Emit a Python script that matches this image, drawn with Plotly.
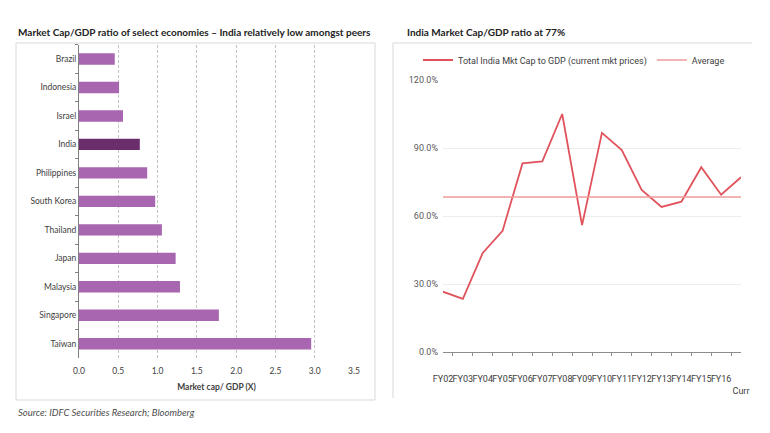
import plotly.graph_objects as go

W, H = 770, 433

# ---- Left chart data ----
countries = ["Brazil", "Indonesia", "Israel", "India", "Philippines", "South Korea",
             "Thailand", "Japan", "Malaysia", "Singapore", "Taiwan"]
mcap_gdp = [0.455, 0.51, 0.56, 0.774, 0.868, 0.97, 1.055, 1.23, 1.285, 1.78, 2.955]
x_ticks = [0.0, 0.5, 1.0, 1.5, 2.0, 2.5, 3.0, 3.5]

# ---- Right chart data ----
years = ["FY02", "FY03", "FY04", "FY05", "FY06", "FY07", "FY08", "FY09", "FY10",
         "FY11", "FY12", "FY13", "FY14", "FY15", "FY16", "Curr"]
india_ratio = [26.6, 23.4, 43.7, 53.5, 83.2, 84.1, 105.0, 56.0, 96.7, 89.1,
               71.5, 64.0, 66.3, 81.5, 69.4, 77.1]
average_ratio = 68.4
y_ticks = [0, 30, 60, 90, 120]

PURPLE = "#a865b0"
DARK_PURPLE = "#6b2d6c"
RED = "#e0535c"
PINK = "#f09a9a"

def px_x(p):
    return p / W

def px_y(p):
    return 1 - p / H

bar_colors = [DARK_PURPLE if c == "India" else PURPLE for c in countries]

fig = go.Figure()
fig.add_trace(go.Bar(
    x=mcap_gdp, y=countries, orientation="h",
    marker=dict(color=bar_colors, line=dict(width=0)),
    xaxis="x", yaxis="y", showlegend=False,
))

fig.add_trace(go.Scatter(
    x=years, y=india_ratio, mode="lines",
    line=dict(color=RED, width=1.8),
    name="Total India Mkt Cap to GDP (current mkt prices)",
    xaxis="x2", yaxis="y2",
))
fig.add_trace(go.Scatter(
    x=years, y=[average_ratio] * len(years), mode="lines",
    line=dict(color=PINK, width=1.5),
    name="Average",
    xaxis="x2", yaxis="y2",
))

LEFT_FONT = "Lato"
RIGHT_FONT = "Roboto"

fig.update_layout(
    width=W, height=H,
    margin=dict(l=0, r=0, t=0, b=0, autoexpand=False),
    paper_bgcolor="white", plot_bgcolor="white",
    bargap=0.6,
    xaxis=dict(
        domain=[px_x(79), px_x(354)], range=[0, 3.5],
        tickvals=x_ticks, tickformat=".1f",
        showgrid=True, gridcolor="#c4c4c4", griddash="3px,2px", gridwidth=1,
        zeroline=False, showline=False, ticks="",
        tickfont=dict(family=LEFT_FONT, size=8.5, color="#404040"),
        ticklabelstandoff=6,
        title=dict(text="<b>Market cap/ GDP (X)</b>", standoff=9,
                   font=dict(family=LEFT_FONT, size=8.5, color="#404040")),
        anchor="y", fixedrange=True, automargin=False,
    ),
    yaxis=dict(
        domain=[px_y(358), px_y(44.75)],
        categoryorder="array", categoryarray=countries, autorange="reversed",
        showline=True, linecolor="#808080", linewidth=1,
        ticks="outside", ticklen=3, tickcolor="#808080", tickson="boundaries",
        showgrid=False,
        tickfont=dict(family=LEFT_FONT, size=8.5, color="#404040"),
        anchor="x", fixedrange=True, automargin=False,
    ),
    xaxis2=dict(
        domain=[px_x(443), px_x(741)],
        type="category", tickangle=0, tickmode="array",
        tickvals=years, ticktext=years[:-1] + ["<br>Curr"],
        showline=True, linecolor="#8c8c8c", linewidth=1,
        ticks="outside", ticklen=3, tickcolor="#8c8c8c", tickson="boundaries",
        showgrid=False, ticklabelstandoff=18,
        tickfont=dict(family=RIGHT_FONT, size=9, color="#404040"),
        anchor="y2", fixedrange=True, automargin=False,
    ),
    yaxis2=dict(
        domain=[px_y(352), px_y(80)], range=[0, 120],
        tickmode="array", tickvals=y_ticks,
        ticktext=[f"{v:.1f}%" for v in y_ticks],
        showgrid=True, gridcolor="#ececec", gridwidth=1,
        zeroline=False, showline=False, ticks="", ticklabelstandoff=4,
        tickfont=dict(family=RIGHT_FONT, size=9, color="#595959"),
        anchor="x2", fixedrange=True, automargin=False,
    ),
    legend=dict(
        orientation="h", x=px_x(418), y=px_y(60), xanchor="left", yanchor="middle",
        font=dict(family=RIGHT_FONT, size=9, color="#404040"),
        bgcolor="rgba(0,0,0,0)", itemwidth=30, tracegroupgap=0,
    ),
    showlegend=True,
)

shapes = [
    dict(type="rect", xref="paper", yref="paper",
         x0=px_x(16), x1=px_x(375), y0=px_y(400), y1=px_y(43),
         line=dict(color="#d9d9d9", width=1)),
    dict(type="line", xref="paper", yref="paper",
         x0=px_x(393), x1=px_x(752), y0=px_y(43), y1=px_y(43),
         line=dict(color="#d9d9d9", width=1)),
    dict(type="line", xref="paper", yref="paper",
         x0=px_x(393), x1=px_x(393), y0=px_y(398), y1=px_y(43),
         line=dict(color="#d9d9d9", width=1)),
]
fig.update_layout(shapes=shapes)

annotations = [
    dict(text="<b>Market Cap/GDP ratio of select economies – India relatively low amongst peers</b>",
         xref="paper", yref="paper", x=px_x(16), y=px_y(32), xanchor="left", yanchor="middle",
         showarrow=False, font=dict(family=LEFT_FONT, size=10, color="#222222")),
    dict(text="<b>India Market Cap/GDP ratio at 77%</b>",
         xref="paper", yref="paper", x=px_x(405), y=px_y(32), xanchor="left", yanchor="middle",
         showarrow=False, font=dict(family=LEFT_FONT, size=10, color="#222222")),
    dict(text="<i>Source: IDFC Securities Research; Bloomberg</i>",
         xref="paper", yref="paper", x=px_x(16), y=px_y(412), xanchor="left", yanchor="middle",
         showarrow=False, font=dict(family=LEFT_FONT, size=9.5, color="#4d4d4d")),
]
fig.update_layout(annotations=annotations)

fig.write_html(
    "out.html",
    config={"displayModeBar": False},
    post_script="document.body.style.margin='0';document.body.style.overflow='hidden';",
)
